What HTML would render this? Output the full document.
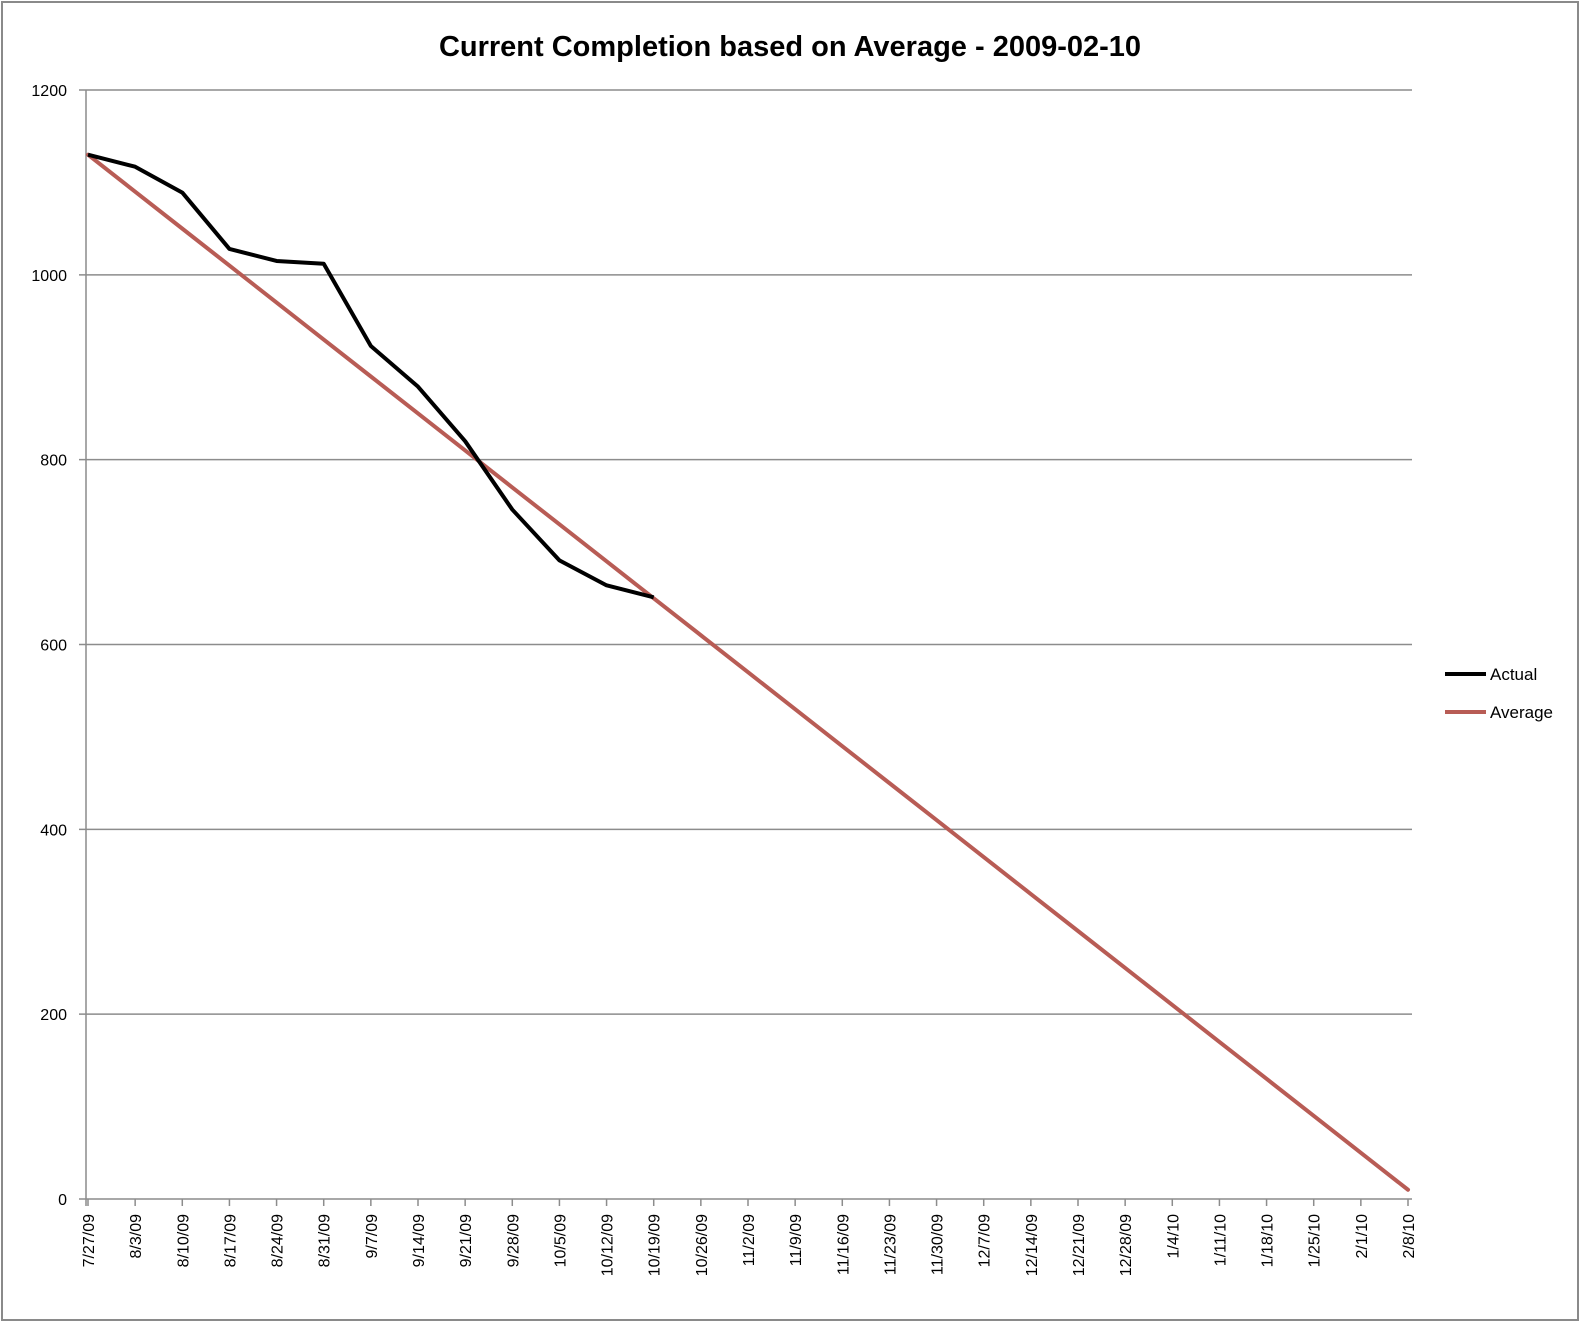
<!DOCTYPE html>
<html><head><meta charset="utf-8"><style>
body{margin:0;background:#fff}
svg{display:block;font-family:"Liberation Sans",sans-serif}
</style></head><body>
<svg id="chart" width="1582" height="1323" viewBox="0 0 1582 1323">
<rect x="2" y="2" width="1576" height="1318" fill="#fff" stroke="#8a8a8a" stroke-width="2"/>
<text x="790" y="56" text-anchor="middle" font-size="29" font-weight="bold" fill="#000">Current Completion based on Average - 2009-02-10</text>
<g id="grid"></g>
<g id="xaxis"></g>
<g id="series"></g>
<g>
<line x1="1445" y1="674" x2="1486" y2="674" stroke="#000" stroke-width="4"/>
<text x="1490" y="680" font-size="17">Actual</text>
<line x1="1445" y1="712" x2="1486" y2="712" stroke="#b85c55" stroke-width="4"/>
<text x="1490" y="718" font-size="17">Average</text>
</g>
</svg>
<script>
const categories=["7/27/09","8/3/09","8/10/09","8/17/09","8/24/09","8/31/09","9/7/09","9/14/09","9/21/09","9/28/09","10/5/09","10/12/09","10/19/09","10/26/09","11/2/09","11/9/09","11/16/09","11/23/09","11/30/09","12/7/09","12/14/09","12/21/09","12/28/09","1/4/10","1/11/10","1/18/10","1/25/10","2/1/10","2/8/10"];
const actualValues=[1130,1117,1089,1028,1015,1012,923,879,820,746,691,664,651];
const averageValues=[1130,1090,1050,1010,970,930,890,850,810,770,730,690,650,610,570,530,490,450,410,370,330,290,250,210,170,130,90,50,10];
const yTicks=[0,200,400,600,800,1000,1200];
const NS="http://www.w3.org/2000/svg";
const X0=88,X1=1408,Y0=1199,Y1=90,YMAX=1200;
function xPos(i){return X0+(X1-X0)*i/(categories.length-1);}
function yPos(v){return Y0-(Y0-Y1)*v/YMAX;}
function mk(tag,attrs,parent){const e=document.createElementNS(NS,tag);for(const k in attrs)e.setAttribute(k,attrs[k]);parent.appendChild(e);return e;}
const grid=document.getElementById('grid'),xa=document.getElementById('xaxis'),ser=document.getElementById('series');
yTicks.forEach(v=>{
  const y=yPos(v);
  const l=mk('line',{x1:79,x2:1412,y1:y,y2:y,stroke:'#8c8c8c','stroke-width':1.5},grid);
  
  
  const t=mk('text',{x:67,y:y+6,'text-anchor':'end','font-size':16},grid);
  t.textContent=v;
  
  
});
const ya=mk('line',{x1:86,x2:86,y1:Y1,y2:Y0+7,stroke:'#8c8c8c','stroke-width':1.5},grid);


categories.forEach((c,i)=>{
  const x=xPos(i);
  const tk=mk('line',{x1:x,x2:x,y1:Y0,y2:Y0+7,stroke:'#8c8c8c','stroke-width':1.5},xa);
  
  
  const t=mk('text',{x:0,y:0,'text-anchor':'end','font-size':16,transform:`translate(${x+6},1214) rotate(-90)`},xa);
  t.textContent=c;
  
  
});
const avg=mk('polyline',{points:averageValues.map((v,i)=>xPos(i)+','+yPos(v)).join(' '),fill:'none',stroke:'#b85c55','stroke-width':4,'stroke-linejoin':'round','stroke-linecap':'round'},ser);


const act=mk('polyline',{points:actualValues.map((v,i)=>xPos(i)+','+yPos(v)).join(' '),fill:'none',stroke:'#000','stroke-width':4,'stroke-linejoin':'round'},ser);


</script>
</body></html>
